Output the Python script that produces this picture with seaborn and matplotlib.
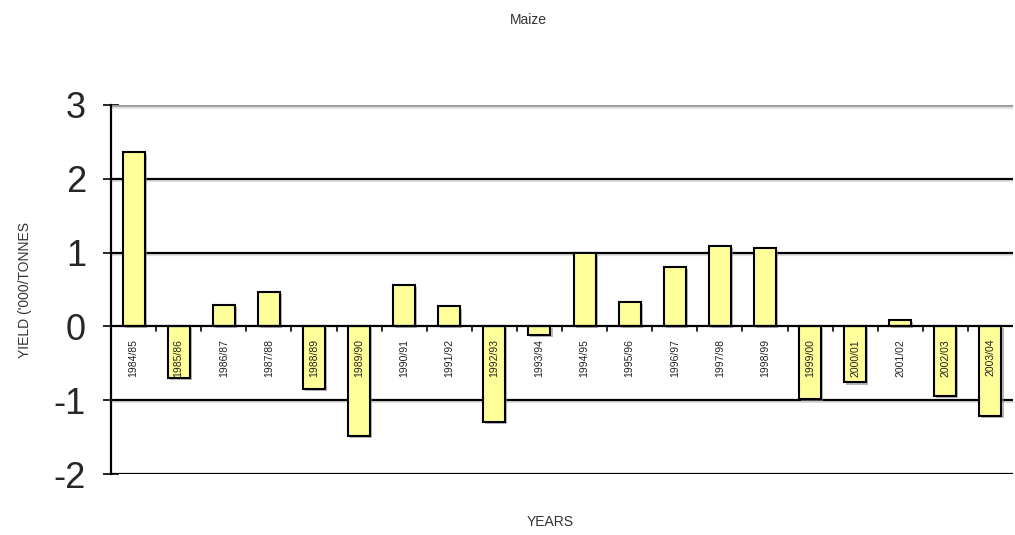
import matplotlib
matplotlib.use("Agg")
import matplotlib.pyplot as plt
import matplotlib.patheffects as pe
import seaborn as sns
import pandas as pd

# Maize yield deviation by season ('000 tonnes)
seasons = ["1984/85", "1985/86", "1986/87", "1987/88", "1988/89",
           "1989/90", "1990/91", "1991/92", "1992/93", "1993/94",
           "1994/95", "1995/96", "1996/97", "1997/98", "1998/99",
           "1999/00", "2000/01", "2001/02", "2002/03", "2003/04"]
yield_dev = [2.36, -0.70, 0.29, 0.47, -0.85,
             -1.48, 0.56, 0.27, -1.29, -0.12,
             0.99, 0.33, 0.80, 1.09, 1.06,
             -0.98, -0.76, 0.09, -0.94, -1.21]
y_ticks = [-2, -1, 0, 1, 2, 3]

df = pd.DataFrame({"season": seasons, "yield": yield_dev})

sns.set_theme(style="white")
plt.rcParams["font.family"] = ["Liberation Sans", "DejaVu Sans"]

fig = plt.figure(figsize=(10.15, 5.35), dpi=100)
ax = fig.add_axes([111 / 1015, 1 - 474 / 535, 902 / 1015, (474 - 105) / 535])

# horizontal reference lines with a faint grey drop shadow
line_shadow = [pe.SimpleLineShadow(offset=(0, -1.5), shadow_color="#cccccc", alpha=0.6), pe.Normal()]
for v in [-2, -1, 1, 2]:
    ax.axhline(v, color="black", lw=1.6, zorder=1, path_effects=line_shadow)
ax.axhline(3, color="#9a9a9a", lw=2.0, zorder=1, path_effects=line_shadow)

sns.barplot(data=df, x="season", y="yield", color="#FFFF99", width=0.49,
            edgecolor="black", linewidth=1.5, saturation=1, ax=ax, zorder=3)
for patch in ax.patches:
    patch.set_path_effects([pe.SimplePatchShadow(offset=(1.5, -1.5), shadow_rgbFace="#8a8a8a", alpha=0.6),
                            pe.Normal()])

ax.axhline(0, color="black", lw=1.6, zorder=4)

ax.set_xlim(-0.5, len(seasons) - 0.5)
ax.set_ylim(-2, 3)
ax.set_yticks(y_ticks)
ax.set_yticklabels([str(t) for t in y_ticks], fontsize=26)
ax.tick_params(axis="y", direction="inout", length=12, width=1.2, color="black", pad=12, left=True)

# category separator ticks hanging below the zero line
ax.set_xticks([])
for i in range(1, len(seasons)):
    ax.plot([i - 0.5, i - 0.5], [0, -0.06], color="black", lw=1.2, zorder=4, clip_on=False)

# season labels just under the zero line
for i, s in enumerate(seasons):
    ax.text(i, -0.17, s, rotation=90, ha="center", va="top", fontsize=7.5,
            color="#222222", zorder=5)

for side in ["top", "right", "bottom"]:
    ax.spines[side].set_visible(False)
ax.spines["left"].set_color("black")
ax.spines["left"].set_linewidth(1.6)
ax.spines["left"].set_zorder(5)

ax.set_xlabel("")
ax.set_ylabel("")
fig.text(25 / 1015, 1 - 290 / 535, "YIELD ('000/TONNES", rotation=90, ha="center", va="center",
         fontsize=10, color="#333333")
fig.text(550 / 1015, 1 - 522 / 535, "YEARS", ha="center", va="center", fontsize=10, color="#333333")
fig.text(528 / 1015, 1 - 20 / 535, "Maize", ha="center", va="center", fontsize=10, color="#333333")

fig.savefig("out.png", dpi=100, facecolor="white")
